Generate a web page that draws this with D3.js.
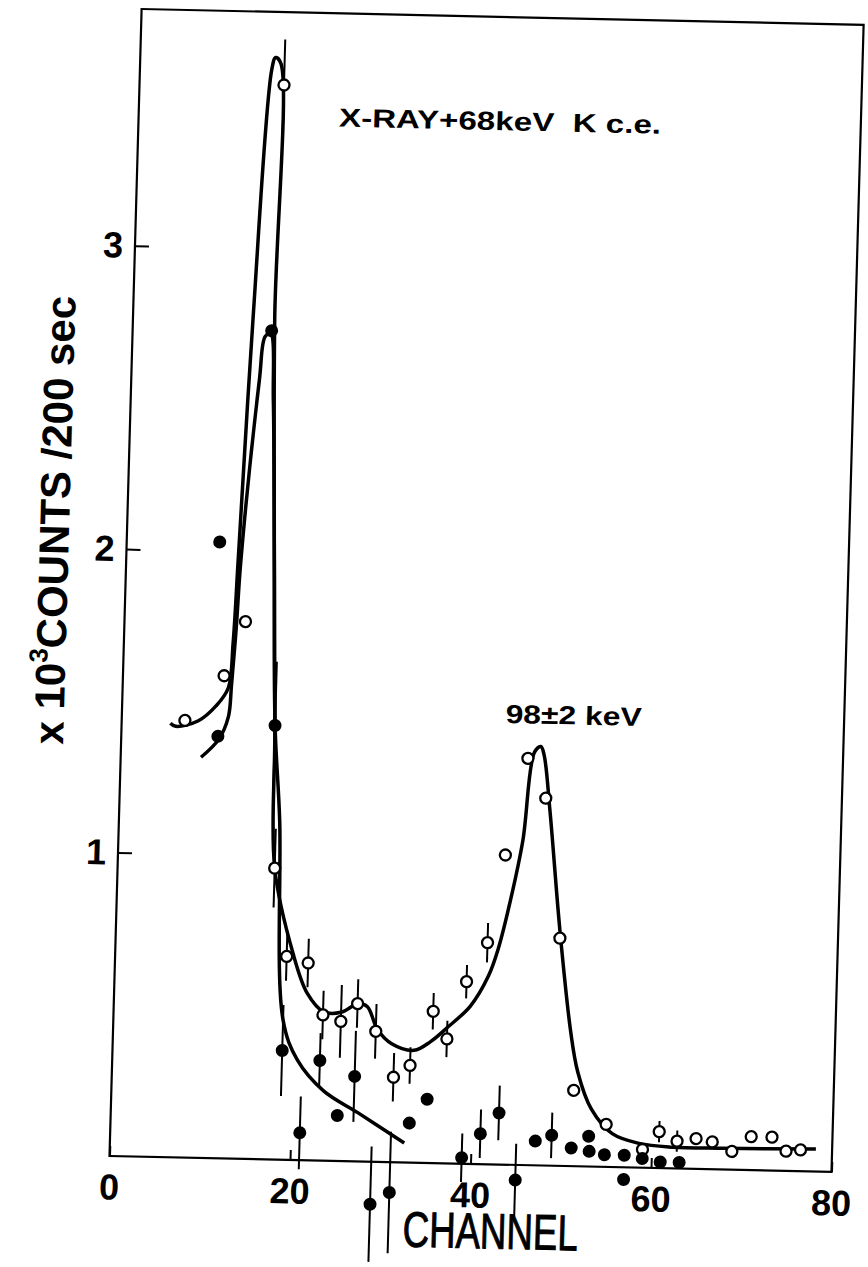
<!DOCTYPE html>
<html>
<head>
<meta charset="utf-8">
<script src="https://cdn.jsdelivr.net/npm/d3@7"></script>
<style>
  html, body { margin: 0; padding: 0; background: #fff; }
  svg { display: block; }
  text { font-family: "Liberation Sans", Arial, sans-serif; fill: #000; }
</style>
</head>
<body>
<script>
// open circles: x10^3 counts / 200 sec vs channel
const openCh     = [7.0, 11.2, 13.4, 16.0, 17.4, 19.0, 21.4, 23.2, 25.2, 27.0, 29.1, 31.2, 33.0, 35.4, 37.0, 39.0, 41.2,
                    42.9, 45.1, 47.2, 49.2, 51.2, 54.9, 59.0, 60.8, 62.8, 64.9, 66.7, 68.9, 71.0, 73.3, 74.9, 76.5];
const openCounts = [1.44, 1.59, 1.77, 3.54, 0.96, 0.67, 0.65, 0.48, 0.46, 0.52, 0.43, 0.28, 0.32, 0.50, 0.41, 0.60, 0.73,
                    1.02, 1.34, 1.21, 0.75, 0.25, 0.14, 0.06, 0.12, 0.09, 0.10, 0.09, 0.06, 0.11, 0.11, 0.065, 0.07];
const openErr    = [0, 0, 0, 0.15, 0.13, 0.08, 0.08, 0.08, 0.12, 0.08, 0.09, 0.08, 0.06, 0.06, 0.06, 0.055, 0.065,
                    0, 0, 0, 0, 0, 0, 0, 0.035, 0.035, 0, 0, 0, 0, 0, 0, 0];

// filled circles
const fullCh     = [10.7, 10.3, 15.4, 17.0, 18.8, 21.0, 23.0, 25.1, 26.9, 29.0, 31.1, 33.1, 35.0, 39.0, 41.0, 43.0, 45.0,
                    47.1, 48.9, 51.1, 53.0, 53.1, 54.8, 57.0, 57.0, 59.0, 61.0, 63.1];
const fullCounts = [1.39, 2.03, 2.73, 1.43, 0.36, 0.09, 0.33, 0.15, 0.28, -0.14, -0.10, 0.13, 0.21, 0.02, 0.10, 0.17, -0.05,
                    0.08, 0.10, 0.06, 0.10, 0.05, 0.04, 0.04, -0.04, 0.03, 0.02, 0.02];
const fullErr    = [0, 0, 0, 0.21, 0.15, 0.12, 0.09, 0, 0.15, 0.19, 0.20, 0, 0, 0.08, 0.08, 0.09, 0.12,
                    0, 0.075, 0, 0, 0, 0, 0, 0, 0, 0, 0];

// hand drawn curves through the two sets
const fitOpenCh     = [5.4, 6.0, 8.5, 10.4, 11.7, 12.1, 12.4, 13.3, 14.6, 15.0, 15.6, 15.7, 16.4, 17.0, 17.4, 19.7, 21.4,
                       23.3, 25.2, 27.1, 28.1, 29.3, 30.9, 33.4, 35.2, 37.1, 39.5, 41.4, 42.4, 43.6, 44.8, 45.8, 46.5,
                       46.9, 47.7, 49.2, 50.7, 51.6, 53.2, 55.6, 58.6, 62.3, 67.8, 78.2];
const fitOpenCounts = [1.43, 1.42, 1.44, 1.49, 1.55, 1.70, 1.97, 2.77, 3.59, 3.63, 3.61, 2.77, 1.98, 1.40, 0.96, 0.68, 0.55,
                       0.49, 0.49, 0.52, 0.51, 0.435, 0.39, 0.37, 0.40, 0.45, 0.52, 0.62, 0.71, 0.87, 1.07, 1.36, 1.38,
                       1.35, 1.17, 0.77, 0.44, 0.31, 0.19, 0.11, 0.08, 0.07, 0.07, 0.074];
const fitFullCh     = [8.9, 10.8, 11.8, 12.05, 12.4, 12.7, 14.2, 14.7, 15.3, 15.8, 16.4, 17.0, 17.8, 18.8, 20.5, 23.5, 27.4, 32.6];
const fitFullCounts = [1.32, 1.38, 1.455, 1.56, 1.75, 1.97, 2.57, 2.71, 2.72, 2.50, 1.98, 1.43, 1.12, 0.46, 0.33, 0.23, 0.16, 0.064];

const xTicks = [0, 20, 40, 60, 80];
const yTicks = [1, 2, 3];

const width = 868, height = 1267;
const plotW = 722, plotH = 1147;

const svg = d3.select("body").append("svg")
  .attr("width", width)
  .attr("height", height);

// the scanned figure sits a little skewed; origin is the lower left corner
const g = svg.append("g")
  .attr("transform", "matrix(1,0.022,-0.028,1,109.5,1156)");
const plot = g.append("g")
  .attr("transform", "translate(0," + (-plotH) + ")");

const x = d3.scaleLinear().domain([0, 80]).range([0, plotW]);
const y = d3.scaleLinear().domain([0, 3.78]).range([plotH, 0]);

const xAxis = plot.append("g")
  .attr("class", "x axis")
  .attr("transform", "translate(0," + plotH + ")")
  .call(d3.axisBottom(x).tickValues(xTicks).tickSize(-10).tickSizeOuter(0).tickPadding(18));

const yAxis = plot.append("g")
  .attr("class", "y axis")
  .call(d3.axisLeft(y).tickValues(yTicks).tickSize(-14).tickSizeOuter(0).tickPadding(12).tickFormat(d3.format("d")));

[xAxis, yAxis].forEach(a => {
  a.select(".domain").remove();
  a.selectAll(".tick line").attr("stroke", "#000").attr("stroke-width", 2);
  a.selectAll(".tick text")
    .attr("font-family", "'Liberation Sans', Arial, sans-serif")
    .attr("font-size", 36)
    .attr("font-weight", "bold");
});

plot.append("rect")
  .attr("x", 0).attr("y", 0)
  .attr("width", plotW).attr("height", plotH)
  .attr("fill", "none")
  .attr("stroke", "#000")
  .attr("stroke-width", 2.2);

const line = d3.line()
  .x(d => x(d[0]))
  .y(d => y(d[1]))
  .curve(d3.curveCatmullRom.alpha(0.5));

plot.append("path")
  .datum(d3.zip(fitOpenCh, fitOpenCounts))
  .attr("d", line)
  .attr("fill", "none").attr("stroke", "#000").attr("stroke-width", 3.5);

plot.append("path")
  .datum(d3.zip(fitFullCh, fitFullCounts))
  .attr("d", line)
  .attr("fill", "none").attr("stroke", "#000").attr("stroke-width", 3.5);

const openPts = d3.zip(openCh, openCounts, openErr);
const fullPts = d3.zip(fullCh, fullCounts, fullErr);

plot.selectAll("line.err")
  .data(openPts.concat(fullPts).filter(d => d[2] > 0))
  .enter()
  .append("line")
  .attr("class", "err")
  .attr("x1", d => x(d[0])).attr("x2", d => x(d[0]))
  .attr("y1", d => y(d[1] - d[2])).attr("y2", d => y(d[1] + d[2]))
  .attr("stroke", "#000").attr("stroke-width", 2);

plot.selectAll("circle.open")
  .data(openPts)
  .enter()
  .append("circle")
  .attr("class", "open")
  .attr("cx", d => x(d[0]))
  .attr("cy", d => y(d[1]))
  .attr("r", 5.5)
  .attr("fill", "#fff").attr("stroke", "#000").attr("stroke-width", 2.3);

plot.selectAll("circle.full")
  .data(fullPts)
  .enter()
  .append("circle")
  .attr("class", "full")
  .attr("cx", d => x(d[0]))
  .attr("cy", d => y(d[1]))
  .attr("r", 6.5)
  .attr("fill", "#000");

plot.append("text")
  .attr("x", x(22.2)).attr("y", y(3.407))
  .attr("font-size", 26).attr("font-weight", "bold")
  .attr("textLength", 322).attr("lengthAdjust", "spacingAndGlyphs")
  .style("white-space", "pre")
  .text("X-RAY+68keV  K c.e.");

plot.append("text")
  .attr("x", x(42.5)).attr("y", y(1.455))
  .attr("font-size", 26).attr("font-weight", "bold")
  .attr("textLength", 136).attr("lengthAdjust", "spacingAndGlyphs")
  .style("white-space", "pre")
  .text("98\u00b12 keV");

plot.append("text")
  .attr("x", x(32.7)).attr("y", plotH + 84)
  .attr("font-size", 50)
  .attr("stroke", "#000").attr("stroke-width", 1)
  .attr("textLength", 175).attr("lengthAdjust", "spacingAndGlyphs")
  .text("CHANNEL");

const yLabel = plot.append("text")
  .attr("transform", "translate(-58," + y(2.09) + ") rotate(-90)")
  .attr("text-anchor", "middle")
  .attr("font-size", 42).attr("font-weight", "bold")
  .style("white-space", "pre");
yLabel.append("tspan").text("x 10");
yLabel.append("tspan").attr("font-size", 26).attr("dy", -18).text("3");
yLabel.append("tspan").attr("dy", 18).text("COUNTS /200 sec");
</script>
</body>
</html>
